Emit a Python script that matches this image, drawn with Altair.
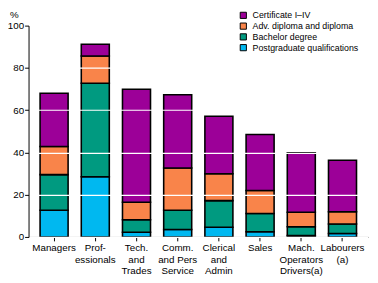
import altair as alt
import pandas as pd

categories = ["Managers", "Prof-|essionals", "Tech.|and|Trades", "Comm.|and Pers|Service",
              "Clerical|and|Admin", "Sales", "Mach.|Operators|Drivers(a)", "Labourers|(a)"]
series = ["Certificate I\u2013IV", "Adv. diploma and diploma", "Bachelor degree",
          "Postgraduate qualifications"]
colors = ["#9C0098", "#F9844A", "#009A80", "#00B8F0"]

cert = [25.2, 5.6, 53.5, 34.7, 27.2, 26.5, 28.1, 24.4]
adv = [13.3, 12.9, 8.3, 20.0, 12.7, 10.9, 6.9, 5.8]
bach = [16.9, 44.2, 5.9, 9.1, 12.6, 8.6, 4.1, 4.5]
post = [12.6, 28.5, 2.2, 3.5, 4.6, 2.5, 0.7, 1.6]

rows = []
for vals, name, order in [(post, series[3], 0), (bach, series[2], 1),
                          (adv, series[1], 2), (cert, series[0], 3)]:
    for c, v in zip(categories, vals):
        rows.append({"cat": c, "series": name, "value": v, "ord": order})
df = pd.DataFrame(rows)

FONT = "Liberation Sans"

chart = alt.Chart(df).mark_bar(stroke="black", strokeWidth=1.6).encode(
    x=alt.X("cat:N", sort=categories,
            scale=alt.Scale(paddingInner=0.32, paddingOuter=0.28),
            axis=alt.Axis(title=None, labelAngle=0, labelExpr="split(datum.label, '|')",
                          labelLineHeight=11.7, labelFont=FONT, labelFontSize=10,
                          labelColor="black", labelPadding=2, tickSize=4,
                          tickColor="black", domainColor="black", labelBaseline="top",
                          grid=False)),
    y=alt.Y("value:Q", stack="zero",
            scale=alt.Scale(domain=[0, 100], nice=False),
            axis=alt.Axis(values=[0, 20, 40, 60, 80, 100], title="%", titleAngle=0,
                          titleX=-15, titleY=-8, titleAlign="center",
                          titleBaseline="alphabetic", titleFont=FONT, titleFontSize=10,
                          titleFontWeight="normal", titleColor="black",
                          labelFont=FONT, labelFontSize=10, labelColor="black",
                          labelPadding=1, tickSize=4, tickColor="black",
                          domainColor="black", grid=True, gridColor="white",
                          gridWidth=1.2, zindex=1)),
    color=alt.Color("series:N", scale=alt.Scale(domain=series, range=colors),
                    legend=alt.Legend(title=None, orient="none", legendX=215, legendY=-15,
                                      symbolType="square", symbolSize=40,
                                      symbolStrokeColor="black", symbolStrokeWidth=1,
                                      symbolOpacity=1, zindex=2,
                                      labelFont=FONT, labelFontSize=9, labelColor="black",
                                      rowPadding=0, labelOffset=5)),
    order=alt.Order("ord:Q", sort="ascending"),
).properties(
    width=347, height=216,
    autosize=alt.AutoSizeParams(type="none"),
    padding={"left": 21, "top": 15, "right": 2, "bottom": 42},
).configure_view(stroke=None)

chart.save("out.html", embed_options={"renderer": "svg", "actions": False})
